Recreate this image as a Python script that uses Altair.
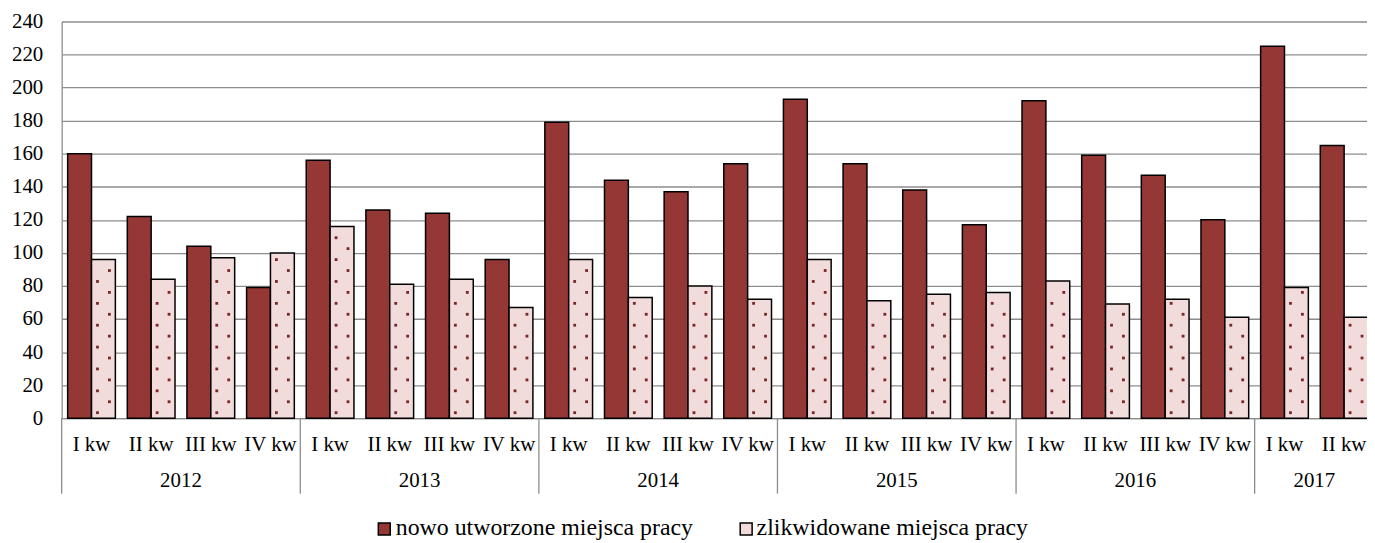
import altair as alt
import pandas as pd

# ---------------- data ----------------
years = ["2012", "2013", "2014", "2015", "2016", "2017"]
quarters_per_year = [4, 4, 4, 4, 4, 2]
quarter_names = ["I kw", "II kw", "III kw", "IV kw"]
nowo = [160, 122, 104, 79, 156, 126, 124, 96, 179, 144, 137, 154,
        193, 154, 138, 117, 192, 159, 147, 120, 225, 165]
zlik = [96, 84, 97, 100, 116, 81, 84, 67, 96, 73, 80, 72,
        96, 71, 75, 76, 83, 69, 72, 61, 79, 61]
series_names = ["nowo utworzone miejsca pracy", "zlikwidowane miejsca pracy"]
series_colors = ["#953735", "#F2DCDB"]
y_ticks = list(range(0, 241, 20))

# ---------------- layout ----------------
FONT = "Liberation Serif"
FS = 21
LEGEND_FS = 24
PLOT_W = 1313
BAND_RANGE = 1320
PLOT_H = 399
GRID = "#8c8c8c"
LEGEND_SYMBOL_X = [324.5, 688.5]
LEGEND_TEXT_X = [336, 699]
LEGEND_SYMBOL_Y = 510.5
LEGEND_TEXT_Y = 517

keys, year_first, year_mid = [], [], []
for y, n in zip(years, quarters_per_year):
    ks = [f"{y}|{q}" for q in quarter_names[:n]]
    keys.extend(ks)
    year_first.append(ks[0])
    year_mid.append(ks[n // 2 - 1])

bars_df = pd.DataFrame(
    [{"key": k, "series": s, "value": v}
     for k, a, b in zip(keys, nowo, zlik)
     for s, v in zip(series_names, (a, b))]
)

# dotted pattern for the light bars (derived from the values)
dot_step = 240 / PLOT_H * 11
dots = []
for k, b in zip(keys, zlik):
    i = 0
    while dot_step * (i + 0.5) < b - 2:
        dots.append({"key": k, "value": dot_step * (i + 0.5), "col": i % 2})
        i += 1
dots_df = pd.DataFrame(dots)

sep_df = pd.DataFrame({"key": year_first})
yr_df = pd.DataFrame({"key": year_mid, "year": years})

x_scale = alt.Scale(domain=keys, range=[0, BAND_RANGE], paddingInner=0, paddingOuter=0)
xoff_scale = alt.Scale(domain=series_names, paddingInner=0, paddingOuter=0.25)
y_scale = alt.Scale(domain=[0, 240], nice=False)

x_axis = alt.Axis(title=None, labelExpr="split(datum.label, '|')[1]", labelAngle=0,
                  ticks=False, labelPadding=16, labelFont=FONT, labelFontSize=FS,
                  labelColor="black", domainColor=GRID, domainWidth=1.3, grid=False)
y_axis = alt.Axis(title=None, values=y_ticks, ticks=False, labelPadding=19,
                  labelFont=FONT, labelFontSize=FS, labelColor="black",
                  labelOverlap=False, tickCount=13,
                  domainColor=GRID, domainWidth=1.3, gridColor=GRID, gridWidth=1.3)

bars = alt.Chart(bars_df).mark_bar(stroke="black", strokeWidth=1.5).encode(
    x=alt.X("key:N", scale=x_scale, axis=x_axis),
    xOffset=alt.XOffset("series:N", scale=xoff_scale),
    y=alt.Y("value:Q", scale=y_scale, axis=y_axis),
    fill=alt.Fill("series:N",
                  scale=alt.Scale(domain=series_names, range=series_colors),
                  legend=None),
)

dots_a = alt.Chart(dots_df).transform_filter("datum.col == 0").mark_square(
    size=8, color="#7a2626", opacity=1).encode(
    x=alt.X("key:N", bandPosition=0.6, axis=x_axis),
    y=alt.Y("value:Q", axis=y_axis),
)
dots_b = alt.Chart(dots_df).transform_filter("datum.col == 1").mark_square(
    size=8, color="#7a2626", opacity=1).encode(
    x=alt.X("key:N", bandPosition=0.8, axis=x_axis),
    y=alt.Y("value:Q", axis=y_axis),
)

seps = alt.Chart(sep_df).mark_rule(color=GRID, strokeWidth=1.3).encode(
    x=alt.X("key:N", bandPosition=0, axis=x_axis),
    y=alt.value(PLOT_H),
    y2=alt.value(PLOT_H + 76),
)

yr_text = alt.Chart(yr_df).mark_text(font=FONT, fontSize=FS, baseline="middle",
                                      color="black").encode(
    x=alt.X("key:N", bandPosition=1, axis=x_axis),
    y=alt.value(PLOT_H + 63),
    text="year:N",
)

# legend (series names and colours from the data arrays)
legend_layers = []
for name, col, sx, tx in zip(series_names, series_colors, LEGEND_SYMBOL_X, LEGEND_TEXT_X):
    ldf = pd.DataFrame({"series": [name]})
    legend_layers.append(
        alt.Chart(ldf).mark_square(size=144, fill=col, stroke="black",
                                   strokeWidth=1.5, filled=True, opacity=1).encode(
            x=alt.value(sx), y=alt.value(LEGEND_SYMBOL_Y))
    )
    legend_layers.append(
        alt.Chart(ldf).mark_text(font=FONT, fontSize=LEGEND_FS, align="left",
                                 baseline="alphabetic", color="black").encode(
            x=alt.value(tx), y=alt.value(LEGEND_TEXT_Y), text="series:N")
    )

chart = alt.layer(bars, dots_a, dots_b, seps, yr_text, *legend_layers).properties(
    width=PLOT_W, height=PLOT_H,
    padding={"left": 54, "top": 12, "right": 0, "bottom": 124},
    autosize=alt.AutoSizeParams(type="none"),
    background="white",
).configure(font=FONT).configure_view(stroke=None).configure_axis(labelFont=FONT)

chart.save("out.html", embed_options={"renderer": "svg", "actions": False})
